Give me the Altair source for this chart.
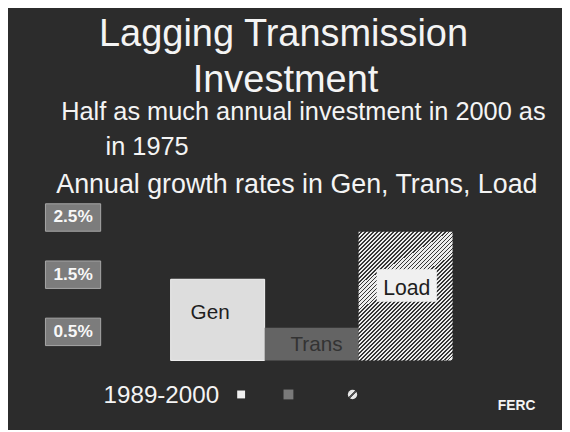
import altair as alt
import pandas as pd

# ---- data ----
categories = ["Gen", "Trans", "Load"]
growth = [1.42, 0.57, 2.25]          # annual growth rate, %, 1989-2000
tick_labels = ["2.5%", "1.5%", "0.5%"]
tick_values = [2.5, 1.5, 0.5]

W, H = 562, 422
FONT = "Liberation Sans"
BG = "#2c2c2c"

bars = pd.DataFrame({"cat": categories, "g": growth})
ticks = pd.DataFrame({"lab": tick_labels, "v": tick_values})
one = pd.DataFrame({"k": [0]})

xs = alt.Scale(domain=categories, range=[165, 451], paddingInner=0, paddingOuter=0)
ys = alt.Scale(domain=[0, 2.5], range=[354.5, 209.5], nice=False, zero=True)

# hatched fill for Load
light, dark = "#ececec", "#353535"
N = 56
stops = []
for i in range(N):
    a, b, c = i / N, (i + 0.55) / N, (i + 1) / N
    stops += [
        {"offset": a, "color": light},
        {"offset": b, "color": light},
        {"offset": b, "color": dark},
        {"offset": c, "color": dark},
    ]
hatch = {"gradient": "linear", "x1": 0, "y1": 0, "x2": 0.822, "y2": 1.129, "stops": stops}
hatch_small = {"gradient": "linear", "x1": 0, "y1": 0, "x2": 1, "y2": 1, "stops": [
    {"offset": 0, "color": "#e8e8e8"}, {"offset": 0.42, "color": "#e8e8e8"},
    {"offset": 0.42, "color": "#555555"}, {"offset": 0.58, "color": "#555555"},
    {"offset": 0.58, "color": "#e8e8e8"}, {"offset": 1, "color": "#e8e8e8"}]}

base = alt.Chart(bars).encode(
    x=alt.X("cat:N", scale=xs, axis=None),
    y=alt.Y("g:Q", scale=ys, axis=None),
)
gen_bar = base.transform_filter(alt.datum.cat == "Gen").mark_bar(
    color="#dddddd", stroke="#f4f4f4", strokeWidth=1)
trans_bar = base.transform_filter(alt.datum.cat == "Trans").mark_bar(color="#646464")
load_bar = base.transform_filter(alt.datum.cat == "Load").mark_bar(color=hatch)


def txt(s, x, y, size, color="#f4f4f4", align="left", weight="normal"):
    return alt.Chart(one).mark_text(
        text=s, align=align, baseline="alphabetic", font=FONT,
        fontSize=size, color=color, fontWeight=weight,
    ).encode(x=alt.value(x), y=alt.value(y))


load_box = alt.Chart(one).mark_rect(color="#f0f0f0").encode(
    x=alt.value(374), x2=alt.value(435), y=alt.value(262), y2=alt.value(295))

gen_lab = txt("Gen", 205, 312, 21, color="#1e1e1e", align="center")
trans_lab = txt("Trans", 313, 345, 21, color="#333333", align="center")
load_lab = txt("Load", 404.5, 288, 21.5, color="#1e1e1e", align="center")

tick_box = alt.Chart(ticks).transform_calculate(
    lo="datum.v - 0.24", hi="datum.v + 0.24"
).mark_rect(color="#7c7c7c", stroke="#a8a8a8", strokeWidth=1).encode(
    x=alt.value(38), x2=alt.value(94),
    y=alt.Y("lo:Q", scale=ys, axis=None), y2="hi:Q")
tick_txt = alt.Chart(ticks).mark_text(
    font=FONT, fontSize=17.5, fontWeight="bold", color="#f8f8f8",
    baseline="middle", align="center"
).encode(x=alt.value(66), y=alt.Y("v:Q", scale=ys, axis=None), text="lab:N")

t1 = txt("Lagging Transmission", 279.5, 36, 38.5, align="center")
t2 = txt("Investment", 281.5, 82, 38.5, align="center")
s1 = txt("Half as much annual investment in 2000 as", 54, 111, 25.7)
s2 = txt("in 1975", 99, 146, 25.7)
s3 = txt("Annual growth rates in Gen, Trans, Load", 49, 185, 27.2)
yr = txt("1989-2000", 97, 398, 24.5)
ferc = txt("FERC", 516, 405, 14, align="center", weight="bold")

m1 = alt.Chart(one).mark_point(shape="square", filled=True, size=64, color="#f0f0f0", opacity=1).encode(
    x=alt.value(236.5), y=alt.value(389))
m2 = alt.Chart(one).mark_point(shape="square", filled=True, size=100, color="#7a7a7a", opacity=1).encode(
    x=alt.value(284.5), y=alt.value(389))
m3 = alt.Chart(one).mark_point(shape="circle", filled=True, size=90, fill=hatch_small, opacity=1).encode(
    x=alt.value(349.5), y=alt.value(389))

chart = alt.layer(
    gen_bar, trans_bar, load_bar, load_box, gen_lab, trans_lab, load_lab,
    tick_box, tick_txt, t1, t2, s1, s2, s3, yr, ferc, m1, m2, m3,
).properties(
    width=W, height=H, background=BG, padding=0,
    autosize=alt.AutoSizeParams(type="none"),
).configure_view(strokeWidth=0)

chart.save("out.html", embed_options={"renderer": "svg", "actions": False})
